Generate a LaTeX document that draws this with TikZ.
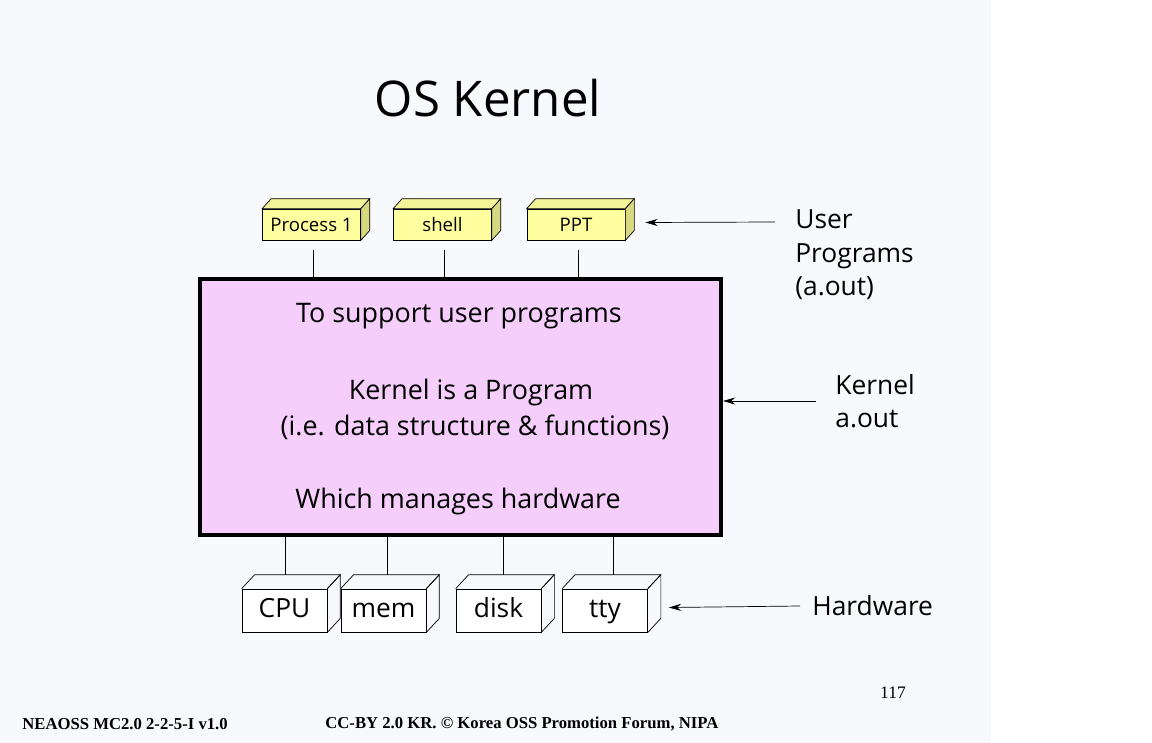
\documentclass[tikz,border=0pt]{standalone}
\usepackage{fontspec}
\setmainfont{Open Sans}
\newfontfamily\footfont{Liberation Serif}
\usetikzlibrary{arrows.meta,calc}

\definecolor{slidebg}{RGB}{248,249,253}
\definecolor{kernpink}{RGB}{245,206,251}
\definecolor{progfront}{RGB}{255,255,160}
\definecolor{progtop}{RGB}{244,244,152}
\definecolor{progside}{RGB}{216,216,130}

\tikzset{
  kbox/.style={draw, fill=kernpink, line width=2.3pt, minimum width=10.42cm, minimum height=5.12cm},
  prog/.style={draw, fill=progfront, minimum width=1.96cm, minimum height=0.62cm, inner sep=0pt,
    text height=1.6ex, text depth=0.2ex, font=\fontsize{10.6}{12}\selectfont},
  hwbox/.style={draw, fill=white, minimum width=1.7cm, minimum height=0.86cm, inner sep=0pt,
    text height=1.95ex, text depth=0.45ex, font=\fontsize{15}{18}\selectfont},
  ktext/.style={font=\fontsize{15.3}{19}\selectfont, inner sep=0pt},
  lbl/.style={font=\fontsize{15}{19}\selectfont, inner sep=0pt, align=left, anchor=west},
  arr/.style={-{Stealth[length=7pt,width=4pt]}, thin},
  foot/.style={font=\footfont\bfseries\fontsize{9.5}{11}\selectfont, inner sep=0pt}
}

\begin{document}
\begin{tikzpicture}[x=0.02cm, y=-0.02cm]
    % the slide
    \fill[slidebg] (0,0) rectangle (991,743);
    \useasboundingbox (0,0) rectangle (1152,743);
    \node[font=\fontsize{28}{34}\selectfont] (title) at (488,98) {OS Kernel};
    % the kernel
    \node[kbox] (kernel) at (460.5,407) {};
    \node[ktext] (k1) at (459,316) {To support user programs};
    \node[ktext] (k2) at (471,393) {Kernel is a Program};
    \node[ktext] (k3) at (475,427) {(i.e. data structure \& functions)};
    \node[ktext] (k4) at (458,502) {Which manages hardware};
    % the user programs (front faces, then top and side)
    \node[prog] (p1) at (311.5,224.5) {Process 1};
    \node[prog] (sh) at (442.5,224.5) {shell};
    \node[prog] (ppt) at (576,224.5) {PPT};
    \foreach \n in {p1,sh,ppt} {
        \filldraw[fill=progtop] (\n.north west) -- ++(9,-10) -- ($(\n.north east)+(9,-10)$) -- (\n.north east) -- cycle;
        \filldraw[fill=progside] (\n.north east) -- ++(9,-10) -- ($(\n.south east)+(9,-10)$) -- (\n.south east) -- cycle;
        \coordinate (\n s) at ($(\n.south)+(2,10)$);
        \draw (\n s) -- (\n s |- kernel.north);
    }
    % the hardware
    \node[hwbox] (cpu) at (284.5,610.5) {CPU};
    \node[hwbox] (mem) at (383.5,610.5) {mem};
    \node[hwbox] (disk) at (498.5,610.5) {disk};
    \node[hwbox] (tty) at (605,610.5) {tty};
    \foreach \n/\d in {cpu/1,mem/4,disk/5,tty/8} {
        \draw (\n.north west) -- ++(13,-14) -- ($(\n.north east)+(13,-14)$) -- (\n.north east);
        \draw (\n.north east) -- ++(13,-14) -- ($(\n.south east)+(13,-14)$) -- (\n.south east);
        \coordinate (\n t) at ($(\n.north)+(\d,-14)$);
        \draw (\n t |- kernel.south) -- (\n t);
    }
    % the labels on the right
    \node[lbl] (uprog) at (795,255) {User\\Programs\\(a.out)};
    \node[lbl] (kout) at (835,401) {Kernel\\a.out};
    \node[lbl] (hw) at (812,606) {Hardware};
    \coordinate (ua) at (775,222);
    \coordinate (ka) at (816,401);
    \coordinate (ha) at (800,606);
    \draw[arr] (ua) -- ($(ppt.east)+(20,-2)$);
    \draw[arr] (ka) -- (kernel.east |- ka);
    \draw[arr] (ha) -- ($(tty.east)+(21,-3)$);
    % footer
    \node[foot, anchor=west] (ver) at (22,724) {NEAOSS MC2.0 2-2-5-I v1.0};
    \node[foot, anchor=west] (cc) at (325,724) {CC-BY 2.0 KR. © Korea OSS Promotion Forum, NIPA};
    \node[font=\footfont\fontsize{10}{12}\selectfont, inner sep=0pt] (pg) at (893,693) {117};
\end{tikzpicture}
\end{document}
